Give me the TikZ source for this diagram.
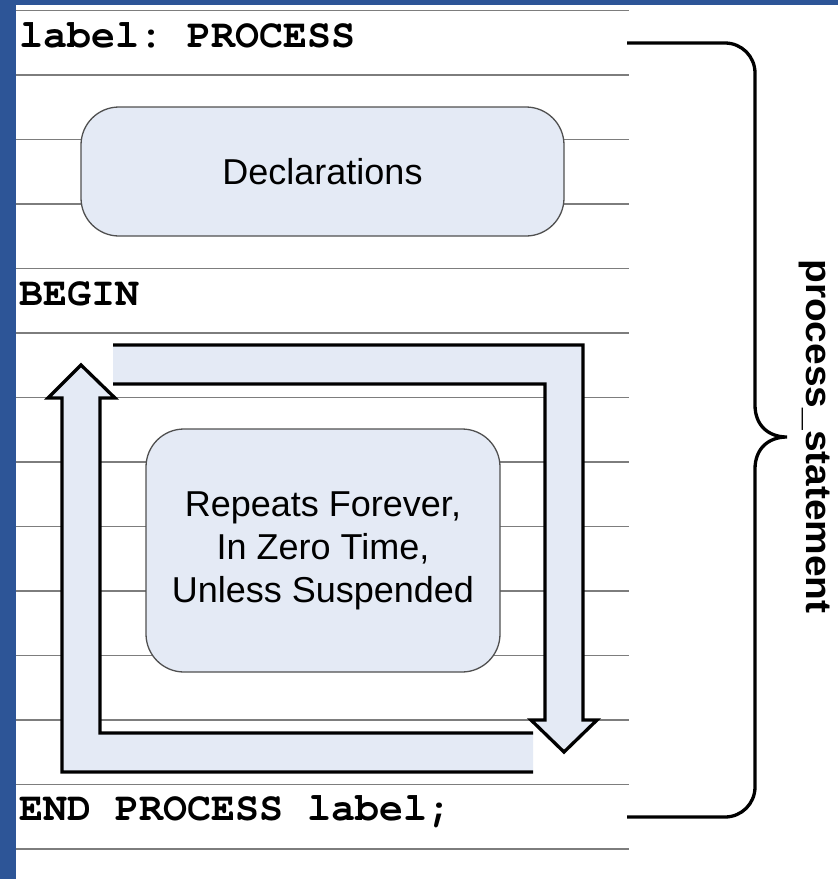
\documentclass[tikz,border=0pt]{standalone}
\usepackage{fontspec}
\usepackage{graphicx}
\newfontfamily\codefont{texgyrecursor}[Extension=.otf, UprightFont=*-regular, BoldFont=*-bold]
\newfontfamily\labelfont{Liberation Sans}
\definecolor{slideblue}{RGB}{45,85,151}
\definecolor{panelfill}{RGB}{228,234,245}
\definecolor{rulegray}{RGB}{125,125,125}
\definecolor{boxedge}{RGB}{80,80,80}

\begin{document}
\begin{tikzpicture}[x=1pt,y=-1pt,
  rule/.style={draw=rulegray, line width=1.6pt},
  roundbox/.style={draw=boxedge, line width=1.3pt, fill=panelfill, rounded corners=38pt, inner sep=0pt},
  loopband/.style={draw=black, line width=3.3pt, line join=miter},
  code/.style={font=\codefont\bfseries\frenchspacing\fontsize{40}{40}\selectfont, anchor=base west, inner sep=0pt},
  caption/.style={font=\labelfont\fontsize{36}{43}\selectfont, align=center},
  bracestroke/.style={draw=black, line width=3.3pt},
]
\useasboundingbox (0,0) rectangle (838,879);
\fill[white] (0,0) rectangle (838,879);
% slide frame
\fill[slideblue] (0,0) rectangle (16,879);
\fill[slideblue] (0,0) rectangle (838,5);

% ruled code lines
\foreach \k in {0,...,13}
  \draw[rule] (16,10.5+64.5*\k) -- (629,10.5+64.5*\k);

% code text
\node[code] (lblproc) at (19,47) {label: PROCESS};
\node[code] (begin) at (19,305.5) {BEGIN};
\node[code] (endproc) at (19,820) {END PROCESS label;};

% declarative part
\node[roundbox, caption, minimum width=483pt, minimum height=129pt] (decl)
  at (322.5,171.5) {Declarations};

% loop: right-then-down arrow
\fill[panelfill] (113,345) -- (583,345) -- (583,720) -- (597,720) -- (564,752)
  -- (531,720) -- (545,720) -- (545,384) -- (113,384) -- cycle;
\draw[loopband] (113,345) -- (583,345) -- (583,720) -- (597,720) -- (564,752)
  -- (531,720) -- (545,720) -- (545,384) -- (113,384);

% loop: left-then-up arrow
\fill[panelfill] (533,772) -- (62,772) -- (62,398) -- (48,398) -- (81,365)
  -- (115,398) -- (100,398) -- (100,733) -- (533,733) -- cycle;
\draw[loopband] (533,772) -- (62,772) -- (62,398) -- (48,398) -- (81,365)
  -- (115,398) -- (100,398) -- (100,733) -- (533,733);

% statement part
\node[roundbox, caption, minimum width=354pt, minimum height=243pt] (repeats)
  at (323,550.5) {Repeats Forever,\\In Zero Time,\\Unless Suspended};

% brace spanning the whole process
\coordinate (bracetop) at (627,43);
\coordinate (bracebot) at (627,817);
\coordinate (bracetip) at (787,437);
\draw[bracestroke] (bracetop) -- (725,43)
  .. controls (741.6,43) and (755,56.4) .. (755,73) -- (755,405)
  .. controls (755,425) and (768,437) .. (bracetip)
  .. controls (768,437) and (755,449) .. (755,469) -- (755,787)
  .. controls (755,803.6) and (741.6,817) .. (725,817) -- (bracebot);

\node[font=\labelfont\bfseries\fontsize{36}{36}\selectfont, rotate=-90,
  anchor=base, inner sep=0pt] (stmt) at (806,436.5)
  {\scalebox{1.08}[1]{process\_statement}};
\end{tikzpicture}
\end{document}
